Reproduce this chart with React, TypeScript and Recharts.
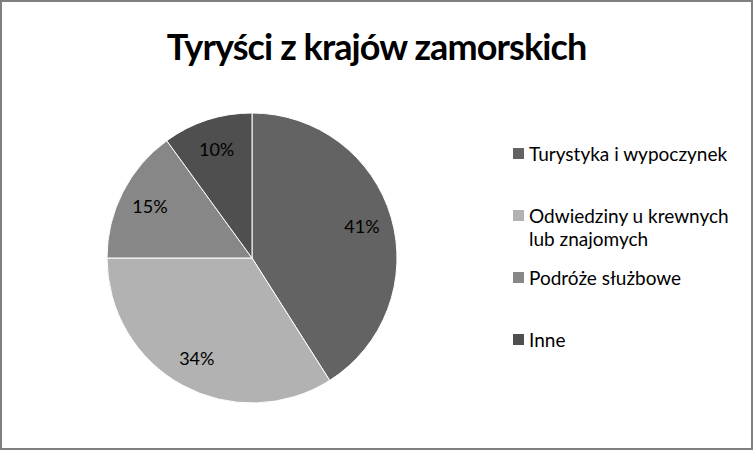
import React from "react";
import { Legend, Pie, PieChart, Cell } from "recharts";

const categories = [
  "Turystyka i wypoczynek",
  "Odwiedziny u krewnych lub znajomych",
  "Podróże służbowe",
  "Inne",
];
const shares = [41, 34, 15, 10];
const colors = ["#636363", "#b2b2b2", "#878787", "#4f4f4f"];

const data = categories.map((name, i) => ({ name, value: shares[i] }));

const RADIAN = Math.PI / 180;

const renderLabel = (props) => {
  const { cx, cy, midAngle, outerRadius, value } = props;
  const r = outerRadius * 0.79;
  const x = cx + r * Math.cos(-midAngle * RADIAN);
  const y = cy + r * Math.sin(-midAngle * RADIAN);
  return (
    <text
      x={x}
      y={y}
      fill="#000"
      textAnchor="middle"
      dominantBaseline="central"
      fontSize={18}
      fontFamily="Lato, sans-serif"
    >
      {value}%
    </text>
  );
};

const renderLegend = () => (
  <div style={{ fontFamily: "Lato, sans-serif", fontSize: 19, color: "#000" }}>
    {data.map((d, i) => (
      <div
        key={d.name}
        style={{ display: "flex", alignItems: "flex-start", height: 62.3 }}
      >
        <span
          style={{
            width: 11,
            height: 11,
            background: colors[i],
            marginTop: 6,
            marginRight: 5,
            flexShrink: 0,
          }}
        />
        <span style={{ lineHeight: "23px", width: 215 }}>{d.name}</span>
      </div>
    ))}
  </div>
);

export default function App() {
  return (
    <div
      style={{
        position: "fixed",
        left: 0,
        top: 0,
        width: 753,
        height: 450,
        boxSizing: "border-box",
        border: "2px solid #808080",
        background: "#fff",
      }}
    >
      <div
        style={{
          position: "absolute",
          left: 0,
          right: 0,
          top: 22,
          textAlign: "center",
          fontFamily: "Lato, sans-serif",
          fontWeight: 700,
          fontSize: 36,
          letterSpacing: -0.9,
          color: "#000",
        }}
      >
        Tyryści z krajów zamorskich
      </div>
      <PieChart
        width={749}
        height={446}
        margin={{ top: 0, right: 0, bottom: 0, left: 0 }}
        style={{ position: "absolute", left: 0, top: 0 }}
      >
        <Pie
          data={data}
          dataKey="value"
          nameKey="name"
          cx={250}
          cy={256}
          outerRadius={145}
          startAngle={90}
          endAngle={-270}
          stroke="#fff"
          strokeWidth={1}
          label={renderLabel}
          labelLine={false}
          isAnimationActive={false}
        >
          {data.map((d, i) => (
            <Cell key={d.name} fill={colors[i]} />
          ))}
        </Pie>
        <Legend
          content={renderLegend}
          wrapperStyle={{ left: 511, top: 139.5, width: 240 }}
        />
      </PieChart>
    </div>
  );
}
